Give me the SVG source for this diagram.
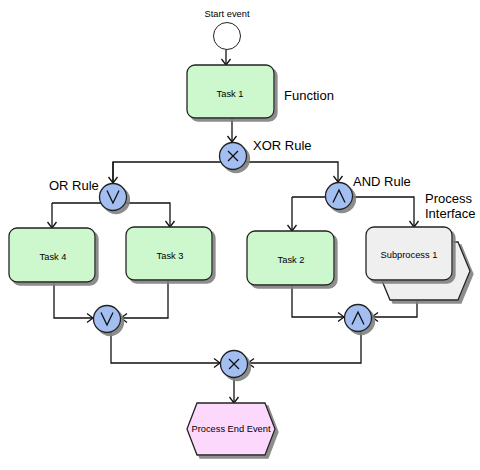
<svg xmlns="http://www.w3.org/2000/svg" width="480" height="470" viewBox="0 0 480 470">
<defs>
<filter id="sh" x="-20%" y="-20%" width="140%" height="140%">
<feGaussianBlur in="SourceAlpha" stdDeviation="0.6" result="b"/>
<feOffset in="b" dx="3" dy="3" result="o"/>
<feFlood flood-color="#808080" flood-opacity="0.9"/>
<feComposite in2="o" operator="in" result="s"/>
<feMerge><feMergeNode in="s"/><feMergeNode in="SourceGraphic"/></feMerge>
</filter>
<marker id="ar" markerUnits="userSpaceOnUse" markerWidth="12" markerHeight="12" viewBox="0 0 12 12" refX="11" refY="6" orient="auto">
<path d="M5,1.5 L11,6 L5,10.5" fill="none" stroke="#111" stroke-width="1.3"/>
</marker>
</defs>
<style>
.fn{fill:#cdf7cd;stroke:#222;stroke-width:1.3;filter:url(#sh)}
.gw{fill:#a3bff2;stroke:#222;stroke-width:1.3;filter:url(#sh)}
.sym{fill:none;stroke:#111;stroke-width:1.3}
.ev{fill:#fdd8fd;stroke:#222;stroke-width:1.3;filter:url(#sh)}
.pi{fill:#efefef;stroke:#222;stroke-width:1.3;filter:url(#sh)}
.c{fill:none;stroke:#111;stroke-width:1.3}
.s{font-family:"Liberation Sans",Arial,sans-serif;font-size:9.3px;fill:#000;text-anchor:middle}
.l{font-family:"Liberation Sans",Arial,sans-serif;font-size:13px;fill:#000}
</style>
<g id="connectors">
<path class="c" d="M226,50 V65" marker-end="url(#ar)"/>
<path class="c" d="M232,118 V142" marker-end="url(#ar)"/>
<path class="c" d="M113,183 V162 H338 V182" marker-end="url(#ar)"/>
<path class="c" d="M113,162 V183" marker-end="url(#ar)"/>
<path class="c" d="M52,203 H170 V227" marker-end="url(#ar)"/>
<path class="c" d="M52,203 V228" marker-end="url(#ar)"/>
<path class="c" d="M54,282 V318 H93" marker-end="url(#ar)"/>
<path class="c" d="M168,280 V318 H121" marker-end="url(#ar)"/>
<path class="c" d="M111,332 V363 H220" marker-end="url(#ar)"/>
<path class="c" d="M361,332 V363 H248" marker-end="url(#ar)"/>
<path class="c" d="M234,378 V403" marker-end="url(#ar)"/>
<path class="c" d="M292,197 H414 V227" marker-end="url(#ar)"/>
<path class="c" d="M292,197 V231" marker-end="url(#ar)"/>
<path class="c" d="M292,285 V317 H344" marker-end="url(#ar)"/>
<path class="c" d="M417,300 V317 H372" marker-end="url(#ar)"/>
</g>
<g id="start">
<circle cx="227" cy="36" r="13.5" fill="#fff" stroke="#222" stroke-width="1"/>
<text class="s" x="227" y="17">Start event</text>
</g>
<g id="task1">
<rect class="fn" x="187" y="65" width="87" height="53" rx="8"/>
<text class="s" x="230" y="97">Task 1</text>
<text class="l" x="284" y="100">Function</text>
</g>
<g id="xor1">
<circle class="gw" cx="233" cy="156" r="13.5"/>
<path class="sym" d="M228,151 L238,161 M238,151 L228,161"/>
<text class="l" x="253" y="150">XOR Rule</text>
</g>
<g id="or1">
<circle class="gw" cx="113" cy="197" r="13.5"/>
<path class="sym" d="M107,190.5 L113,203 L119,190.5"/>
<text class="l" x="49" y="190">OR Rule</text>
</g>
<g id="and1">
<circle class="gw" cx="339" cy="196" r="13.5"/>
<path class="sym" d="M333,202.5 L339,190 L345,202.5"/>
<text class="l" x="353" y="186">AND Rule</text>
</g>
<g id="task4">
<rect class="fn" x="9" y="228" width="86" height="54" rx="8"/>
<text class="s" x="53" y="260">Task 4</text>
</g>
<g id="task3">
<rect class="fn" x="126" y="227" width="86" height="53" rx="8"/>
<text class="s" x="170" y="259">Task 3</text>
</g>
<g id="task2">
<rect class="fn" x="247" y="231" width="87" height="54" rx="8"/>
<text class="s" x="291" y="263">Task 2</text>
</g>
<g id="subprocess1">
<polygon class="pi" points="390,242 458,242 470,271 458,300 390,300 378,271"/>
<rect class="pi" x="366" y="227" width="86" height="53" rx="8"/>
<text class="s" x="409" y="258">Subprocess 1</text>
<text class="l" x="425" y="203">Process</text>
<text class="l" x="425" y="218">Interface</text>
</g>
<g id="or2">
<circle class="gw" cx="107" cy="319" r="13.5"/>
<path class="sym" d="M101,312.5 L107,325 L113,312.5"/>
</g>
<g id="and2">
<circle class="gw" cx="358" cy="318" r="13.5"/>
<path class="sym" d="M352,324.5 L358,312 L364,324.5"/>
</g>
<g id="xor2">
<circle class="gw" cx="234" cy="364" r="13.5"/>
<path class="sym" d="M229,359 L239,369 M239,359 L229,369"/>
</g>
<g id="end">
<polygon class="ev" points="197,403 265,403 275,429 265,455 197,455 187,429"/>
<text class="s" x="231" y="432">Process End Event</text>
</g>
</svg>
